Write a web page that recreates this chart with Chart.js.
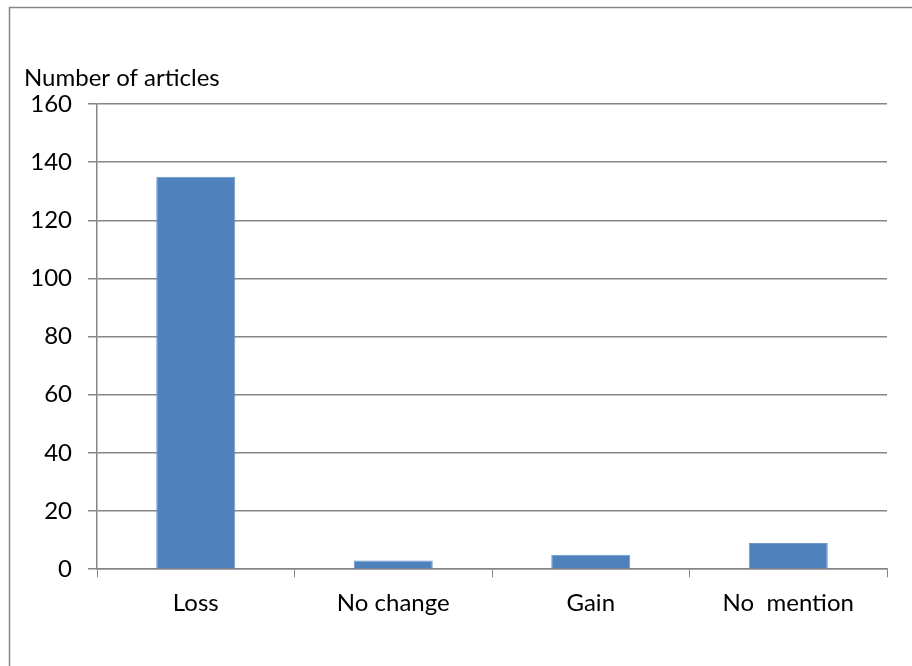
<!DOCTYPE html>
<html>
<head>
<meta charset="utf-8">
<script src="https://cdn.jsdelivr.net/npm/chart.js@4/dist/chart.umd.min.js"></script>
<style>
    html, body { margin: 0; padding: 0; background: #ffffff; }
    #box { width: 912px; height: 666px; }
</style>
</head>
<body>
<div id="box"><canvas id="chartArtigos"></canvas></div>
<script>
// Dados
const categorias = ['Loss', 'No change', 'Gain', 'No  mention'];
const valores = [135, 3, 5, 9];
const tituloEixo = 'Number of articles';

const corLinha = '#868686';
const fonte = { family: 'Lato, "Open Sans", sans-serif', size: 24 };

// Moldura e título do eixo vertical
const molduraPlugin = {
    id: 'moldura',
    beforeDraw(chart) {
        const ctx = chart.ctx;
        ctx.save();
        ctx.fillStyle = '#ffffff';
        ctx.fillRect(0, 0, chart.width, chart.height);
        ctx.strokeStyle = corLinha;
        ctx.lineWidth = 1.5;
        ctx.beginPath();
        ctx.moveTo(9.5, chart.height + 2);
        ctx.lineTo(9.5, 7.5);
        ctx.lineTo(chart.width + 2, 7.5);
        ctx.stroke();
        ctx.restore();
    },
    afterDraw(chart) {
        const ctx = chart.ctx;
        ctx.save();
        ctx.fillStyle = '#000000';
        ctx.font = `${fonte.size}px ${fonte.family}`;
        ctx.textBaseline = 'middle';
        ctx.fillText(tituloEixo, 24, 78);
        ctx.restore();
    }
};

new Chart(document.getElementById('chartArtigos'), {
    type: 'bar',
    data: {
        labels: categorias,
        datasets: [{
            data: valores,
            backgroundColor: '#4f81bd',
            borderColor: '#6f97c9',
            borderWidth: 1,
            categoryPercentage: 0.4,
            barPercentage: 1.0,
        }]
    },
    options: {
        responsive: true,
        maintainAspectRatio: false,
        animation: false,
        layout: {
            padding: { left: 0, right: 25, top: 104, bottom: 36 }
        },
        scales: {
            x: {
                grid: {
                    offset: true,
                    drawOnChartArea: false,
                    color: corLinha,
                    tickLength: 8,
                },
                border: { color: corLinha, width: 1.5 },
                ticks: { color: '#000000', font: fonte, padding: 12 }
            },
            y: {
                min: 0,
                max: 160,
                afterFit(scale) { scale.width = 97; },
                grid: { color: corLinha, lineWidth: 1.5, tickLength: 9 },
                border: { color: corLinha, width: 1.5 },
                ticks: { stepSize: 20, color: '#000000', font: fonte, padding: 16 }
            }
        },
        plugins: {
            legend: { display: false },
            tooltip: { enabled: false }
        }
    },
    plugins: [molduraPlugin]
});
</script>
</body>
</html>
